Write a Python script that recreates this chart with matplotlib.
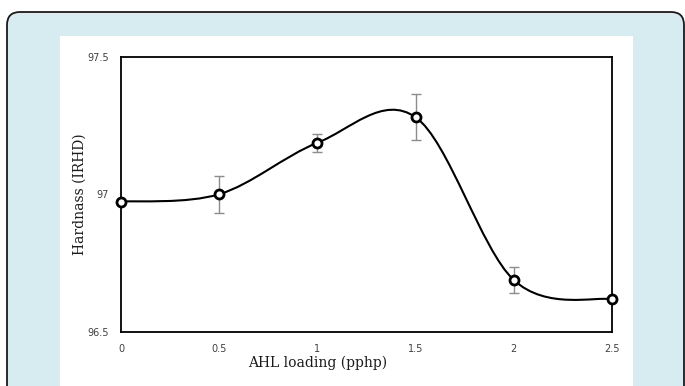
import matplotlib
matplotlib.use('Agg')
import matplotlib.pyplot as plt
import numpy as np
from matplotlib.patches import FancyBboxPatch, Rectangle, PathPatch
from matplotlib.path import Path

# данные
loading = [0, 0.5, 1, 1.5, 2, 2.5]
hardness = [96.974, 97.001, 97.188, 97.281, 96.689, 96.619]
errors = [0.0, 0.068, 0.033, 0.084, 0.047, 0.0]
x_ticks = [0, 0.5, 1, 1.5, 2, 2.5]
x_tick_labels = ['0', '0.5', '1', '1.5', '2', '2.5']
y_ticks = [96.5, 97, 97.5]
y_tick_labels = ['96.5', '97', '97.5']


# сглаженная линия как в Excel: кривые Безье через все точки
def smooth_path(x, y):
    pts = np.column_stack([x, y])
    n = len(pts)
    verts = [pts[0]]
    codes = [Path.MOVETO]
    for i in range(n - 1):
        p0 = pts[max(i - 1, 0)]
        p1 = pts[i]
        p2 = pts[i + 1]
        p3 = pts[min(i + 2, n - 1)]
        c1 = p1 + (p2 - p0) / 6
        c2 = p2 - (p3 - p1) / 6
        verts += [c1, c2, p2]
        codes += [Path.CURVE4] * 3
    return Path(verts, codes)


W, H = 685, 386
fig = plt.figure(figsize=(W / 100, H / 100), dpi=100)
fig.patch.set_facecolor('white')

# рамка с голубым фоном и белая подложка
frame = FancyBboxPatch((7, -30), 677, 30 + H - 12, boxstyle='round,pad=0,rounding_size=13',
                       transform=None, facecolor='#d7ecf1', edgecolor='#1a1a1a', linewidth=1.3, zorder=0)
fig.patches.append(frame)
panel = Rectangle((60, -5), 573, 5 + H - 36, transform=None, facecolor='white', edgecolor='none', zorder=1)
fig.patches.append(panel)

ax = fig.add_axes([121 / W, 1 - 332 / H, (612 - 121) / W, (332 - 57) / H])
ax.set_facecolor('white')
ax.set_zorder(2)

ax.add_patch(PathPatch(smooth_path(loading, hardness), facecolor='none', edgecolor='black', linewidth=1.5, zorder=3))
ax.errorbar(loading, hardness, yerr=errors, fmt='none', ecolor='#8c8c8c', elinewidth=1, capsize=3.5, capthick=1, zorder=2)
ax.plot(loading, hardness, linestyle='none', marker='o', markersize=6.5, markerfacecolor='white',
        markeredgecolor='black', markeredgewidth=2, zorder=4, clip_on=False)

ax.set_xlim(0, 2.5)
ax.set_ylim(96.5, 97.5)
ax.set_xticks(x_ticks)
ax.set_xticklabels(x_tick_labels)
ax.set_yticks(y_ticks)
ax.set_yticklabels(y_tick_labels)
ax.tick_params(length=0, labelsize=7, labelcolor='#404040')
ax.tick_params(axis='y', pad=9)
ax.tick_params(axis='x', pad=8.5)
for s in ax.spines.values():
    s.set_linewidth(1.3)
    s.set_color('black')

ax.set_xlabel('AHL loading (pphp)', fontfamily='DejaVu Serif', fontsize=10, color='#1a1a1a', labelpad=2)
ax.xaxis.set_label_coords((318 - 121) / 491, -0.085)
ax.set_ylabel('Hardnass (IRHD)', fontfamily='DejaVu Serif', fontsize=10, color='#1a1a1a', labelpad=0)

plt.savefig('out.png', dpi=100)
plt.close(fig)
